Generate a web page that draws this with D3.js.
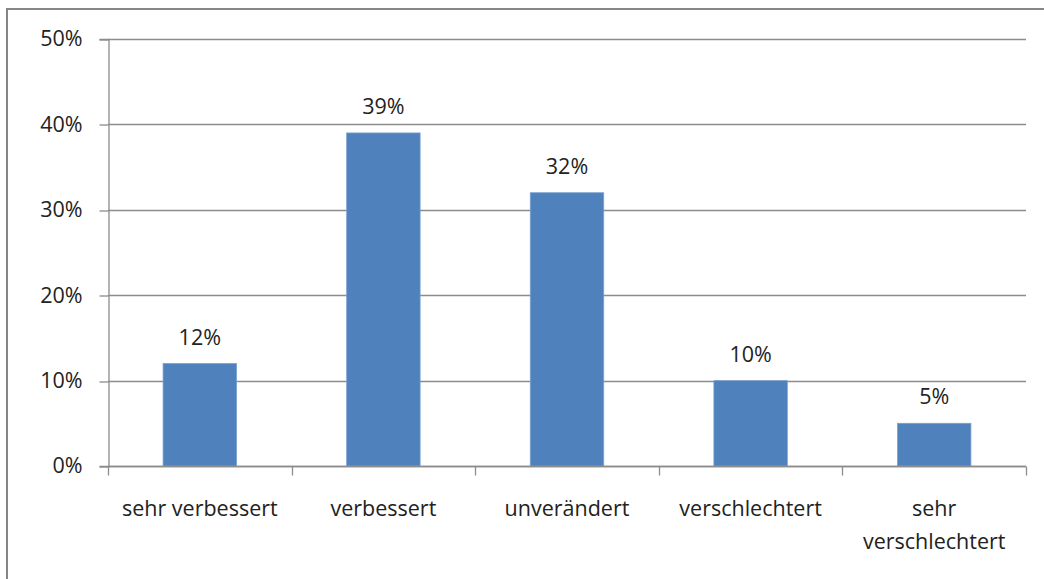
<!DOCTYPE html>
<html>
<head>
<meta charset="utf-8">
<script src="https://cdn.jsdelivr.net/npm/d3@7"></script>
<style>
  html, body { margin: 0; padding: 0; background: #ffffff; }
  svg { display: block; }
</style>
</head>
<body>
<div id="chart"></div>
<script>
(function () {
    "use strict";

    const categories = [
        ["sehr verbessert"],
        ["verbessert"],
        ["unverändert"],
        ["verschlechtert"],
        ["sehr", "verschlechtert"]
    ];
    const values = [12, 39, 32, 10, 5];
    const yTicks = [0, 10, 20, 30, 40, 50];

    const width = 1044;
    const height = 579;
    const margin = { top: 39, right: 18, bottom: 113, left: 108 };
    const font = "'Open Sans', 'Liberation Sans', sans-serif";
    const fontSize = "21.5px";

    const svg = d3.select("#chart")
        .append("svg")
        .attr("width", width)
        .attr("height", height)
        .style("font-family", font);

    // Outer chart frame (only top and left edges visible in the crop)
    svg.append("path")
        .attr("d", `M7,${height} V9 H${width}`)
        .attr("fill", "none")
        .attr("stroke", "#868686")
        .attr("stroke-width", 2);

    const x = d3.scaleBand()
        .domain(d3.range(categories.length))
        .range([margin.left, width - margin.right])
        .paddingInner(0.6)
        .paddingOuter(0.3);

    const xCat = d3.scaleBand()
        .domain(d3.range(categories.length))
        .range([margin.left, width - margin.right]);

    const y = d3.scaleLinear()
        .domain([0, 50])
        .range([height - margin.bottom, margin.top]);

    // Gridlines
    svg.append("g")
        .selectAll("line")
        .data(yTicks)
        .join("line")
        .attr("x1", margin.left)
        .attr("x2", width - margin.right)
        .attr("y1", (d) => Math.round(y(d)) + 0.5)
        .attr("y2", (d) => Math.round(y(d)) + 0.5)
        .attr("stroke", "#8c8c8c")
        .attr("stroke-width", 1.3);

    // Y axis
    const yAxis = d3.axisLeft(y)
        .tickValues(yTicks)
        .tickSize(9)
        .tickPadding(17)
        .tickFormat((d) => d + "%");

    svg.append("g")
        .attr("transform", `translate(${margin.left + 0.5},0)`)
        .call(yAxis)
        .call((g) => g.select(".domain").attr("stroke", "#8c8c8c").attr("stroke-width", 1.3))
        .call((g) => g.selectAll(".tick line").attr("stroke", "#8c8c8c").attr("stroke-width", 1.3)
            .attr("transform", (d) => `translate(0,${Math.round(y(d)) + 0.5 - y(d)})`))
        .call((g) => g.selectAll(".tick text")
            .attr("fill", "#222")
            .style("font-family", font)
            .style("font-size", fontSize));

    // Bars
    svg.append("g")
        .selectAll("rect")
        .data(values)
        .join("rect")
        .attr("x", (d, i) => x(i))
        .attr("y", (d) => y(d))
        .attr("width", x.bandwidth())
        .attr("height", (d) => y(0) - y(d))
        .attr("fill", "#4f81bd")
        .attr("stroke", "#7aa0d0")
        .attr("stroke-width", 0.8);

    // X axis baseline and category ticks
    const xBase = Math.round(y(0)) + 0.5;
    const xAxis = svg.append("g");
    xAxis.append("line")
        .attr("x1", margin.left)
        .attr("x2", width - margin.right)
        .attr("y1", xBase)
        .attr("y2", xBase)
        .attr("stroke", "#8c8c8c")
        .attr("stroke-width", 1.3);

    const boundaries = d3.range(categories.length + 1).map((i) =>
        i < categories.length ? xCat(i) : xCat(i - 1) + xCat.bandwidth());
    xAxis.selectAll("line.tick")
        .data(boundaries)
        .join("line")
        .attr("class", "tick")
        .attr("x1", (d) => Math.round(d) + 0.5)
        .attr("x2", (d) => Math.round(d) + 0.5)
        .attr("y1", xBase)
        .attr("y2", xBase + 9)
        .attr("stroke", "#8c8c8c")
        .attr("stroke-width", 1.3);

    // Category labels
    svg.append("g")
        .selectAll("text")
        .data(categories)
        .join("text")
        .attr("x", (d, i) => xCat(i) + xCat.bandwidth() / 2)
        .attr("y", 516)
        .attr("text-anchor", "middle")
        .attr("fill", "#222")
        .style("font-size", fontSize)
        .selectAll("tspan")
        .data((d) => d)
        .join("tspan")
        .attr("x", function () { return this.parentNode.getAttribute("x"); })
        .attr("dy", (d, i) => (i === 0 ? 0 : 33))
        .text((d) => d);

    // Data labels
    svg.append("g")
        .selectAll("text")
        .data(values)
        .join("text")
        .attr("x", (d, i) => x(i) + x.bandwidth() / 2)
        .attr("y", (d) => y(d) - 19)
        .attr("text-anchor", "middle")
        .attr("fill", "#222")
        .style("font-size", fontSize)
        .text((d) => d + "%");
})();
</script>
</body>
</html>
